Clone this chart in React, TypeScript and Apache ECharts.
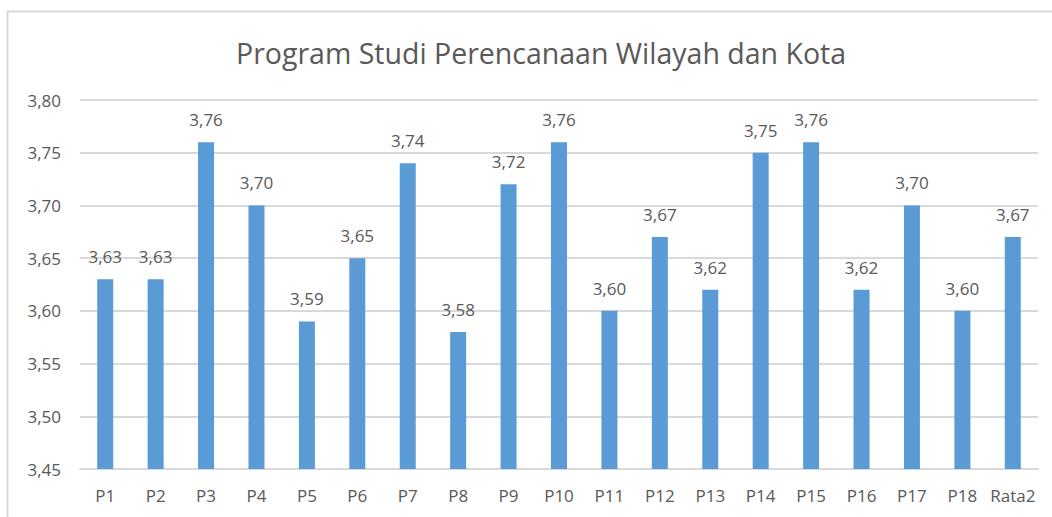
import React, { useEffect, useRef } from "react";
import * as echarts from "echarts";

const categories = ["P1","P2","P3","P4","P5","P6","P7","P8","P9","P10","P11","P12","P13","P14","P15","P16","P17","P18","Rata2"];
const values = [3.63,3.63,3.76,3.70,3.59,3.65,3.74,3.58,3.72,3.76,3.60,3.67,3.62,3.75,3.76,3.62,3.70,3.60,3.67];
const titleText = "Program Studi Perencanaan Wilayah dan Kota";

const fmt = (v: number) => v.toFixed(2).replace(".", ",");

export default function App() {
  const ref = useRef<HTMLDivElement>(null);
  useEffect(() => {
    if (!ref.current) return;
    const chart = echarts.init(ref.current, null, { renderer: "svg" });
    const font = "'Open Sans', sans-serif";
    chart.setOption({
      animation: false,
      backgroundColor: "#ffffff",
      title: {
        text: titleText,
        left: 231,
        top: 33,
        textStyle: { fontFamily: font, fontSize: 28.5, fontWeight: "normal", color: "#595959" },
      },
      graphic: [
        {
          type: "rect",
          shape: { x: 7.5, y: 11.5, width: 1200, height: 700 },
          style: { fill: "none", stroke: "#D9D9D9", lineWidth: 2 },
          silent: true,
        },
      ],
      grid: { left: 80, right: 14, top: 100, bottom: 48 },
      xAxis: {
        type: "category",
        data: categories,
        axisLine: { show: true, lineStyle: { color: "#D9D9D9", width: 2 } },
        axisTick: { show: false },
        axisLabel: { interval: 0, color: "#595959", fontFamily: font, fontSize: 17, margin: 18 },
      },
      yAxis: {
        type: "value",
        min: 3.45,
        max: 3.8,
        interval: 0.05,
        axisLine: { show: false },
        axisTick: { show: false },
        splitLine: { lineStyle: { color: "#D9D9D9", width: 2 } },
        axisLabel: {
          color: "#595959",
          fontFamily: font,
          fontSize: 17,
          margin: 19,
          formatter: (v: number) => fmt(v),
        },
      },
      series: [
        {
          type: "bar",
          data: values,
          barWidth: 16,
          itemStyle: { color: "#5B9BD5" },
          label: {
            show: true,
            position: "top",
            distance: 14,
            color: "#595959",
            fontFamily: font,
            fontSize: 17,
            formatter: (p: any) => fmt(p.value),
          },
        },
      ],
    });
    return () => chart.dispose();
  }, []);
  return (
    <div
      ref={ref}
      style={{ position: "fixed", left: 0, top: 0, width: 1052, height: 517 }}
    />
  );
}
